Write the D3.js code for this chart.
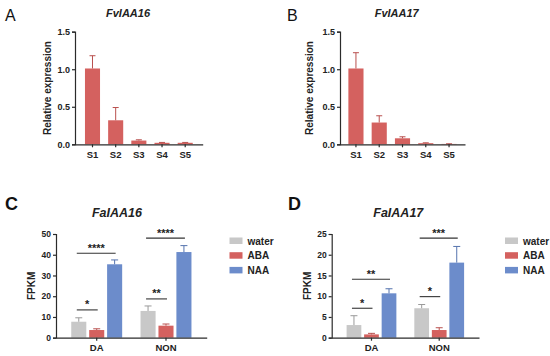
<!DOCTYPE html>
<html>
<head>
<meta charset="utf-8">
<script src="https://cdn.jsdelivr.net/npm/d3@7"></script>
<style>
  body { margin: 0; background: #fff; }
  svg { display: block; }
  text { font-family: "Liberation Sans", Arial, sans-serif; }
</style>
</head>
<body>
<svg id="fig" width="550" height="356"></svg>
<script>
// ---- data ----
var stages = ["S1", "S2", "S3", "S4", "S5"];
var fvIAA16Mean = [1.01, 0.32, 0.05, 0.02, 0.02];
var fvIAA16Err  = [0.17, 0.17, 0.01, 0.005, 0.005];
var fvIAA17Mean = [1.01, 0.29, 0.08, 0.015, 0.005];
var fvIAA17Err  = [0.21, 0.09, 0.02, 0.005, 0.002];
var relTicks = [0, 0.5, 1.0, 1.5];

var tissues = ["DA", "NON"];
var treatments = ["water", "ABA", "NAA"];
// rows follow treatments, columns follow tissues
var faIAA16Mean = [[7.7, 12.9], [3.7, 5.8], [35.4, 41.3]];
var faIAA16Err  = [[1.9, 2.4], [0.6, 0.8], [2.1, 3.1]];
var faIAA17Mean = [[3.05, 7.1], [0.8, 1.85], [10.7, 18.1]];
var faIAA17Err  = [[2.25, 0.9], [0.25, 0.55], [1.1, 3.9]];
var fpkm16Ticks = [0, 10, 20, 30, 40, 50];
var fpkm17Ticks = [0, 5, 10, 15, 20, 25];
// [tissue, from, to, level, label]
var faIAA16Sig = [["DA", "water", "ABA", 13.4, "*"], ["DA", "water", "NAA", 40.7, "****"],
                  ["NON", "water", "ABA", 18.7, "**"], ["NON", "water", "NAA", 48, "****"]];
var faIAA17Sig = [["DA", "water", "ABA", 7.1, "*"], ["DA", "water", "NAA", 14.1, "**"],
                  ["NON", "water", "ABA", 9.9, "*"], ["NON", "water", "NAA", 24.0, "***"]];

var colors = {red: "#d4615f", redDark: "#b9504e", gray: "#c8c8c8", grayDark: "#9a9a9a",
              blue: "#6c8ccb", blueDark: "#5573ae", axis: "#2b2b2b"};
var trtFill = {water: colors.gray, ABA: colors.red, NAA: colors.blue};
var trtErr = {water: colors.grayDark, ABA: colors.redDark, NAA: colors.blueDark};

var svg = d3.select("#fig");

function styleAxis(g){
  g.select(".domain").attr("stroke", colors.axis).attr("stroke-width", 1.2);
  g.selectAll(".tick line").attr("stroke", colors.axis).attr("stroke-width", 1.2);
  g.selectAll(".tick text").attr("fill", "#222").attr("font-weight", "bold")
    .attr("font-family", "Liberation Sans, Arial, sans-serif");
}

function drawSimple(o){
  var y = d3.scaleLinear().domain([0, 1.5]).range([o.y0, o.y1]);
  var x = d3.scaleBand().domain(stages).range([o.x0, o.x1])
      .paddingInner(0.35).paddingOuter(o.po);

  var g = svg.append("g");

  g.selectAll("rect.bar").data(o.mean).enter().append("rect")
      .attr("class", "bar")
      .attr("x", function(d, i){ return x(stages[i]); })
      .attr("y", function(d){ return y(d); })
      .attr("width", x.bandwidth())
      .attr("height", function(d){ return y(0) - y(d); })
      .attr("fill", colors.red);

  // upper error bars only
  o.mean.forEach(function(m, i){
    var cx = x(stages[i]) + x.bandwidth()/2;
    var top = y(m + o.err[i]);
    g.append("line").attr("x1", cx).attr("x2", cx).attr("y1", y(m)).attr("y2", top)
        .attr("stroke", colors.redDark).attr("stroke-width", 1);
    g.append("line").attr("x1", cx - 3).attr("x2", cx + 3).attr("y1", top).attr("y2", top)
        .attr("stroke", colors.redDark).attr("stroke-width", 1);
  });

  var ya = g.append("g").attr("transform", "translate(" + o.x0 + ",0)")
      .call(d3.axisLeft(y).tickValues(relTicks).tickFormat(d3.format(".1f")).tickSize(3).tickPadding(2))
      .attr("font-size", 9);
  styleAxis(ya);

  var xa = g.append("g").attr("transform", "translate(0," + o.y0 + ")")
      .call(d3.axisBottom(x).tickSize(3).tickPadding(4).tickSizeOuter(0))
      .attr("font-size", 9.5);
  styleAxis(xa);

  g.append("text")
      .attr("transform", "translate(" + o.labX + "," + ((o.y0 + o.y1)/2) + ") rotate(-90)")
      .attr("text-anchor", "middle")
      .attr("font-size", "10px").attr("font-weight", "bold").attr("fill", "#222")
      .text("Relative expression");

  g.append("text")
      .attr("x", o.titleX).attr("y", 17)
      .attr("text-anchor", "middle")
      .attr("font-size", "11px").attr("font-weight", "bold").attr("font-style", "italic")
      .attr("fill", "#222")
      .text(o.title);

  g.append("text")
      .attr("x", o.letterX).attr("y", 21)
      .attr("font-size", "16px").attr("fill", "#111")
      .text(o.letter);
}

function drawGrouped(o){
  var y = d3.scaleLinear().domain([0, o.max]).range([o.y0, o.y1]);
  var x0 = d3.scaleBand().domain(tissues).range([o.x0, o.x1])
      .paddingInner(0.265).paddingOuter(0.22);
  var x1 = d3.scaleBand().domain(treatments).range([0, x0.bandwidth()])
      .paddingInner(0.16).paddingOuter(0);

  var g = svg.append("g");

  treatments.forEach(function(t, ti){
    tissues.forEach(function(s, si){
      var m = o.mean[ti][si], e = o.err[ti][si];
      var bx = x0(s) + x1(t);
      g.append("rect")
          .attr("x", bx).attr("y", y(m))
          .attr("width", x1.bandwidth()).attr("height", y(0) - y(m))
          .attr("fill", trtFill[t]);
      var cx = bx + x1.bandwidth()/2;
      var top = y(m + e);
      g.append("line").attr("x1", cx).attr("x2", cx).attr("y1", y(m)).attr("y2", top)
          .attr("stroke", trtErr[t]).attr("stroke-width", 1);
      g.append("line").attr("x1", cx - 3.5).attr("x2", cx + 3.5).attr("y1", top).attr("y2", top)
          .attr("stroke", trtErr[t]).attr("stroke-width", 1);
    });
  });

  // significance brackets
  o.sig.forEach(function(sg){
    var xa = x0(sg[0]) + x1(sg[1]) + x1.bandwidth()/2 - 2;
    var xb = x0(sg[0]) + x1(sg[2]) + x1.bandwidth()/2 + 1;
    var ly = y(sg[3]);
    g.append("line").attr("x1", xa).attr("x2", xb).attr("y1", ly).attr("y2", ly)
        .attr("stroke", "#333").attr("stroke-width", 1.1);
    g.append("text")
        .attr("x", (xa + xb)/2).attr("y", ly - 1.5)
        .attr("text-anchor", "middle")
        .attr("font-size", "11px").attr("font-weight", "bold").attr("fill", "#222")
        .text(sg[4]);
  });

  var ya = g.append("g").attr("transform", "translate(" + o.x0 + ",0)")
      .call(d3.axisLeft(y).tickValues(o.ticks).tickSize(3).tickPadding(2))
      .attr("font-size", 8.5);
  styleAxis(ya);

  var xa = g.append("g").attr("transform", "translate(0," + o.y0 + ")")
      .call(d3.axisBottom(x0).tickSize(3).tickPadding(4).tickSizeOuter(0))
      .attr("font-size", 9.5);
  styleAxis(xa);

  g.append("text")
      .attr("transform", "translate(" + o.labX + "," + ((o.y0 + o.y1)/2) + ") rotate(-90)")
      .attr("text-anchor", "middle")
      .attr("font-size", "10px").attr("font-weight", "bold").attr("fill", "#222")
      .text("FPKM");

  g.append("text")
      .attr("x", o.titleX).attr("y", 217)
      .attr("text-anchor", "middle")
      .attr("font-size", "12.5px").attr("font-weight", "bold").attr("font-style", "italic")
      .attr("fill", "#222")
      .text(o.title);

  g.append("text")
      .attr("x", o.letterX).attr("y", 210)
      .attr("font-size", "18px").attr("font-weight", "bold")
      .attr("font-family", "Liberation Serif, Times New Roman, serif")
      .attr("fill", "#111")
      .text(o.letter);

  var lg = g.append("g").attr("transform", "translate(" + o.legX + ",241)");
  treatments.forEach(function(t, i){
    lg.append("rect").attr("x", 0).attr("y", i*14.7 - 3.5)
        .attr("width", 13).attr("height", 6.5).attr("fill", trtFill[t]);
    lg.append("text").attr("x", 18).attr("y", i*14.7 + 3.5)
        .attr("font-size", "10px").attr("font-weight", "bold").attr("fill", "#222")
        .text(t);
  });
}

drawSimple({letter: "A", letterX: 5, title: "FvIAA16", titleX: 128, labX: 51,
            x0: 75, x1: 202.7, po: 0.43, y0: 144.3, y1: 31.7,
            mean: fvIAA16Mean, err: fvIAA16Err});
drawSimple({letter: "B", letterX: 287, title: "FvIAA17", titleX: 396.7, labX: 313,
            x0: 340, x1: 465, po: 0.36, y0: 144.3, y1: 31.7,
            mean: fvIAA17Mean, err: fvIAA17Err});
drawGrouped({letter: "C", letterX: 5, title: "FaIAA16", titleX: 117, labX: 35,
             x0: 56, x1: 206.7, y0: 337.7, y1: 234, max: 50, ticks: fpkm16Ticks,
             mean: faIAA16Mean, err: faIAA16Err, sig: faIAA16Sig, legX: 229.5});
drawGrouped({letter: "D", letterX: 288, title: "FaIAA17", titleX: 398.3, labX: 311,
             x0: 331.7, x1: 479, y0: 337.7, y1: 234, max: 25, ticks: fpkm17Ticks,
             mean: faIAA17Mean, err: faIAA17Err, sig: faIAA17Sig, legX: 505});
</script>
</body>
</html>
